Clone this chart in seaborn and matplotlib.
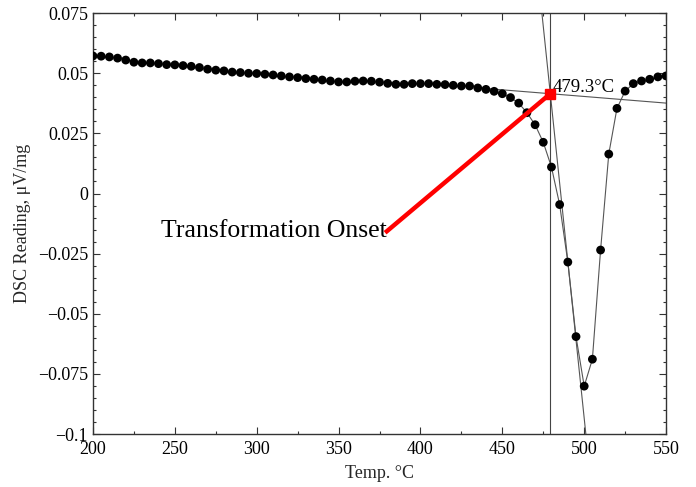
import matplotlib
matplotlib.use('Agg')
import matplotlib.pyplot as plt
from matplotlib.ticker import MultipleLocator, FuncFormatter
import numpy as np
import pandas as pd
import seaborn as sns

# DSC curve
temps = [200, 205, 210, 215, 220, 225, 230, 235, 240, 245,
         250, 255, 260, 265, 270, 275, 280, 285, 290, 295,
         300, 305, 310, 315, 320, 325, 330, 335, 340, 345,
         350, 355, 360, 365, 370, 375, 380, 385, 390, 395,
         400, 405, 410, 415, 420, 425, 430, 435, 440, 445,
         450, 455, 460, 465, 470, 475, 480, 485, 490, 495,
         500, 505, 510, 515, 520, 525, 530, 535, 540, 545, 550]
dsc = [0.0572, 0.0571, 0.0568, 0.0563, 0.0555, 0.0546, 0.0543, 0.0543, 0.0540, 0.0536,
       0.0535, 0.0532, 0.0529, 0.0524, 0.0517, 0.0513, 0.0510, 0.0505, 0.0503, 0.0500,
       0.0499, 0.0496, 0.0493, 0.0489, 0.0485, 0.0482, 0.0478, 0.0475, 0.0472, 0.0468,
       0.0464, 0.0464, 0.0467, 0.0468, 0.0467, 0.0463, 0.0458, 0.0454, 0.0454, 0.0457,
       0.0457, 0.0457, 0.0454, 0.0453, 0.0450, 0.0447, 0.0447, 0.0439, 0.0433, 0.0425,
       0.0415, 0.0399, 0.0376, 0.0336, 0.0286, 0.0213, 0.0110, -0.0046, -0.0285, -0.0595,
       -0.0801, -0.0689, -0.0235, 0.0164, 0.0354, 0.0426, 0.0457, 0.0468, 0.0475, 0.0485, 0.0489]

# onset construction
onset_T = 479.3
onset_y = 0.0415
base_slope = -0.0000552      # baseline tangent
base_range = [437, 550]
steep_slope = -0.00652       # leading edge tangent
steep_range = [470, 505]
label_xy = [378.4, -0.0163]  # where the red pointer starts

df = pd.DataFrame({'Temp': temps, 'DSC': dsc})

sns.set_style('ticks')
plt.rcParams['font.family'] = ['Liberation Serif', 'DejaVu Serif']

fig = plt.figure(figsize=(6.96, 4.87), dpi=100)
ax = fig.add_axes([0.1336, 0.1088, 0.957 - 0.1336, 0.973 - 0.1088])

sns.lineplot(data=df, x='Temp', y='DSC', ax=ax, color='#555555', linewidth=0.8, zorder=2)
sns.scatterplot(data=df, x='Temp', y='DSC', ax=ax, color='black', s=40,
                edgecolor='none', zorder=3)

# tangents + vertical marker
bx = np.array(base_range, dtype=float)
ax.plot(bx, onset_y + base_slope * (bx - onset_T), color='#555555', lw=0.8, zorder=2)
sx = np.array(steep_range, dtype=float)
ax.plot(sx, onset_y + steep_slope * (sx - onset_T), color='#555555', lw=0.8, zorder=2)
ax.axvline(onset_T, color='#444444', lw=0.8, zorder=2)

# red pointer
ax.plot([label_xy[0], onset_T], [label_xy[1], onset_y], color='red', lw=3.2,
        solid_capstyle='butt', zorder=4)
ax.plot([onset_T], [onset_y], marker='s', color='red', markersize=7.5, zorder=5)
ax.text(label_xy[0] + 1, label_xy[1] + 0.0006, 'Transformation Onset', ha='right',
        va='center', fontsize=18.5, color='black')
ax.text(onset_T + 1.6, 0.0442, '{}°C'.format(onset_T), ha='left', va='center',
        fontsize=13.5, color='black')

ax.set_xlim(200, 550)
ax.set_ylim(-0.1, 0.075)
ax.xaxis.set_major_locator(MultipleLocator(50))
ax.xaxis.set_minor_locator(MultipleLocator(25))
ax.yaxis.set_major_locator(MultipleLocator(0.025))
ax.yaxis.set_minor_locator(MultipleLocator(0.005))


def fmt(v, pos):
    v = round(v, 4)
    if v == 0:
        return '0'
    return '{:g}'.format(v).replace('-', '\u2212')


ax.yaxis.set_major_formatter(FuncFormatter(fmt))
ax.tick_params(which='both', direction='in', top=True, right=True,
               colors='#333333', labelcolor='black', labelsize=13)
ax.tick_params(which='major', length=5, width=0.8)
ax.tick_params(which='minor', length=2.5, width=0.8)
ax.tick_params(axis='x', which='major', pad=5)
for sp in ax.spines.values():
    sp.set_color('#333333')
    sp.set_linewidth(1.0)

ax.set_xlabel('Temp. °C', fontsize=13, labelpad=5)
ax.set_ylabel('DSC Reading, μV/mg', fontsize=13, labelpad=5)

fig.savefig('out.png', dpi=100)
